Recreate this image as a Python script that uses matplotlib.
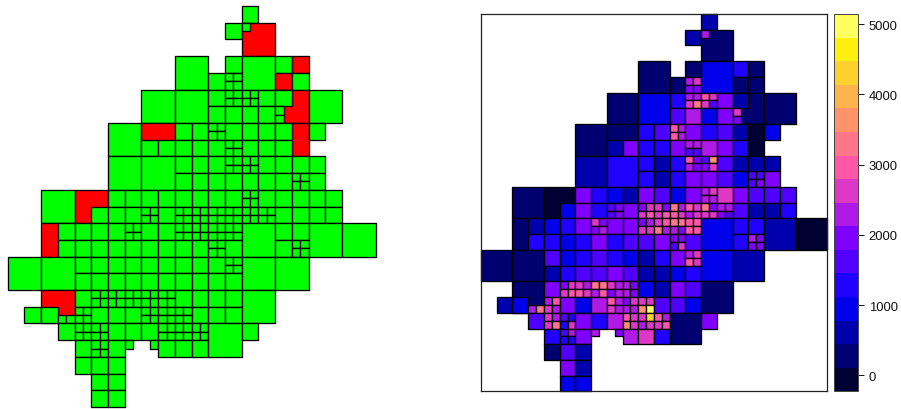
import matplotlib
matplotlib.use("Agg")
import matplotlib.pyplot as plt
import numpy as np
from matplotlib.cm import ScalarMappable
from matplotlib.collections import PatchCollection
from matplotlib.colors import BoundaryNorm, ListedColormap
from matplotlib.patches import Rectangle

plt.rcParams["font.family"] = ["Liberation Sans", "DejaVu Sans"]

# Quadtree per coarse cell: int = colour class of the cell, [tl, tr, bl, br] = split,
# (int, [tl, tr, bl, br]) = cell with smaller cells on top of it, N = nothing.
# R + class marks a cell that is red in the left map.
N = None
R = 100

row_0 = [N, N, N, N, N, N, N, [N, N, 2, N], N, N, N]
row_1 = [N, N, N, N, N, N, [N, 2, N, N], (R + 1, [[7, N, N, N], N, N, N]), N, N, N]
row_2 = [N, N, N, N, N, 1, [N, 1, 1, [7, 8, 6, 6]], 3, [4, R + 1, R + 1, 1], N, N]
row_3 = [N, N, N, N, 1, 3, [4, [7, 7, 8, 10], 5, 7], [[9, 8, 8, 5], 6, 3, 6],
         (R + 1, [2, N, [8, N, 6, N], N]), 1, N]
row_4 = [N, N, N, 1, (R + 1, [N, N, 2, 6]), [4, 5, 4, 4],
         [[9, 7, 9, 7], 6, 6, [7, 7, 5, 5]], [4, 5, 7, 6],
         (R + 0, [2, N, 4, N]), [3, N, N, N], N]
row_5 = [N, N, N, 2, 4, [4, 2, 4, 2], [4, [9, 6, 7, 6], 4, 6],
         [[5, 11, 6, 8], 5, 6, 5], [2, 2, 3, [5, 5, 5, 6]], [2, N, 6, N], N]
row_6 = [N, 1, (R + 0, [N, N, N, 3]), [6, 4, 6, 4], [3, 2, [5, 6, 5, 6], 6],
         [6, 5, [6, 8, 8, 9], [8, 6, 8, 9]], [3, 6, [10, 7, 9, 8], [9, 8, 7, 8]],
         [[7, 8, 7, 7], 8, [10, 6, 8, 8], [7, 7, 6, 5]], [6, 5, 5, 2], [5, 5, 2, 4], N]
row_7 = [N, (R + 1, [N, 2, N, 4]), [3, 4, 4, 3], [6, [8, 6, 6, 7], 4, 6], [6, 6, 4, 5],
         [[6, 7, 8, 8], [8, 9, 10, 7], 5, 6], [[10, 10, 7, 6], [9, 9, 9, 9], [6, 6, 5, 8], 5],
         3, [4, 4, 4, [7, 6, 6, 6]], 2, 0]
row_8 = [1, 1, [5, 3, 2, 4], [4, 5, 5, 5], [4, 3, 6, 5], [2, 4, 2, 2],
         [6, [7, 8, 9, 8], 3, 4], 3, 2, N, N]
row_9 = [[N, N, N, 2], (R + 1, [N, N, 3, [N, N, 7, 10]]),
         [6, [6, 8, 8, 9], [7, 9, 8, 7], 6], [[8, 7, 9, 8], [10, 10, 7, 9], 3, 7],
         [[8, 7, 6, 7], [7, 6, 7, 6], [9, 7, 8, 7], [6, 8, 7, 7]],
         [3, 2, [8, 8, 11, 15], 5], [6, 5, 5, 3], 1, N, N, N]
row_10 = [N, [N, 5, N, N], [[8, 7, 8, 10], [5, 4, 4, 8], 4, [5, 7, 4, 4]],
          [6, 4, 6, [7, N, N, N]], [7, [9, 8, 11, 8], [N, 6, N, N], 7],
          [[8, 13, 7, 8], [9, 7, 8, 9], 8, 4], 1, [6, N, N, N], N, N, N]
row_11 = [N, N, [1, 5, N, 6], [2, N, 2, N], N, N, N, N, N, N, N]
row_12 = [N, N, [N, 3, N, N], [3, N, N, N], N, N, N, N, N, N, N]
rows = [row_0, row_1, row_2, row_3, row_4, row_5, row_6, row_7,
        row_8, row_9, row_10, row_11, row_12]

# bins of the colour key
level_low = -228
level_high = 5143
key_colors = ["#000033", "#000070", "#0000AD", "#0000EB", "#2000FF", "#5000FF",
              "#8000FF", "#AF1AE6", "#DF38C7", "#FF57A8", "#FF758A", "#FF946B",
              "#FFB34D", "#FFD12E", "#FFF00F", "#FFFF60"]
key_ticks = [0, 1000, 2000, 3000, 4000, 5000]
flag_colors = ["#00FF00", "#FF0000"]

W, H = 901, 410


def walk(node, x, y, size, cells):
    if node is None:
        return
    if isinstance(node, tuple):
        walk(node[0], x, y, size, cells)
        node = node[1]
    if isinstance(node, list):
        half = size / 2
        walk(node[0], x, y, half, cells)
        walk(node[1], x + half, y, half, cells)
        walk(node[2], x, y + half, half, cells)
        walk(node[3], x + half, y + half, half, cells)
    else:
        cells.append((x, y, size, node))


def make_axes(fig, x0, x1, y0, y1):
    # pixel box of the reference -> figure fractions
    return fig.add_axes([x0 / W, 1 - y1 / H, (x1 - x0) / W, (y1 - y0) / H])


def draw_map(ax, cells, values, cmap, norm):
    patches = [Rectangle((c[0], c[1]), c[2], c[2]) for c in cells]
    coll = PatchCollection(patches, cmap=cmap, norm=norm, edgecolor="black",
                           linewidth=0.95)
    coll.set_array(np.array(values))
    coll.set_clip_on(False)
    ax.add_collection(coll)
    ax.set_xlim(0, 11)
    ax.set_ylim(12.5, 0.5)
    ax.set_xticks([])
    ax.set_yticks([])


def main():
    cells = []
    for r, row in enumerate(rows):
        for c, node in enumerate(row):
            walk(node, c, r, 1.0, cells)

    levels = np.linspace(level_low, level_high, len(key_colors) + 1)
    mids = (levels[:-1] + levels[1:]) / 2
    values = [mids[c[3] % R] for c in cells]
    flags = [c[3] // R for c in cells]

    fig = plt.figure(figsize=(W / 100, H / 100), dpi=100)

    ax1 = make_axes(fig, 7.7, 375.5, 7, 408)
    draw_map(ax1, cells, flags, ListedColormap(flag_colors),
             BoundaryNorm([-0.5, 0.5, 1.5], 2))
    ax1.axis("off")

    cmap = ListedColormap(key_colors)
    norm = BoundaryNorm(levels, cmap.N)
    ax2 = make_axes(fig, 481, 827, 15, 392.4)
    draw_map(ax2, cells, values, cmap, norm)
    for spine in ax2.spines.values():
        spine.set_linewidth(0.9)
        spine.set_color("#222222")

    cax = make_axes(fig, 834.3, 858.3, 15, 392.4)
    cbar = fig.colorbar(ScalarMappable(norm=norm, cmap=cmap), cax=cax,
                        spacing="proportional", drawedges=False)
    cbar.set_ticks(key_ticks)
    cbar.minorticks_off()
    cbar.ax.tick_params(length=4, width=0.7, pad=3.5, labelsize=9.4, colors="#111111")
    cbar.outline.set_linewidth(0.7)
    cbar.outline.set_edgecolor("#444444")

    fig.savefig("out.png", dpi=100)


main()
